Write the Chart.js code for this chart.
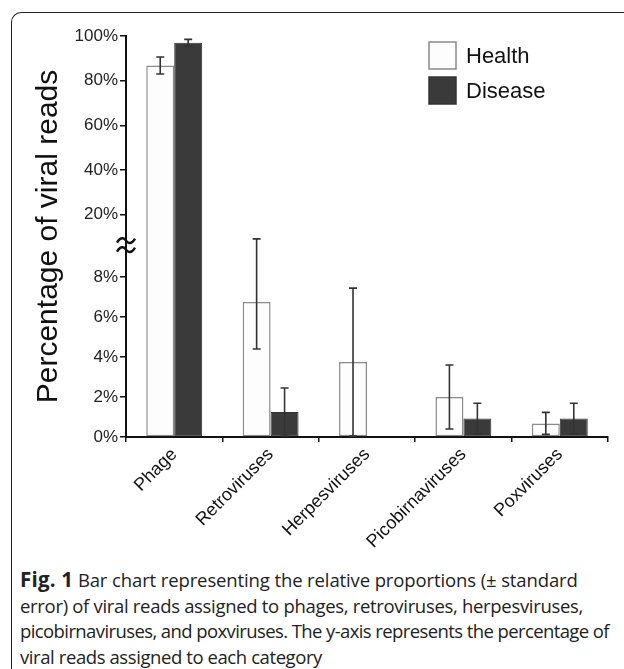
<!DOCTYPE html>
<html>
<head>
<meta charset="utf-8">
<script src="https://cdn.jsdelivr.net/npm/chart.js@4"></script>
<style>
  html, body { margin: 0; padding: 0; background: #fff; }
  body { width: 624px; height: 669px; position: relative; overflow: hidden; }
  .frame {
    position: absolute; left: 11px; top: 12px; width: 700px; height: 700px;
    border-top: 1.5px solid #222; border-left: 1.5px solid #222;
    border-top-left-radius: 10px;
  }
  #wrap { position: absolute; left: 0; top: 0; width: 624px; height: 550px; }
  .caption {
    position: absolute; left: 20px; top: 567px;
    font-family: 'Open Sans', sans-serif; font-size: 18.5px; line-height: 25.5px;
    color: #222; white-space: nowrap;
  }
  .caption .line { display: block; }
  .caption .line span { display: inline-block; }
  .caption b { font-weight: 700; font-size: 20.5px; letter-spacing: 0.2px; }
</style>
</head>
<body>
<div class="frame"></div>
<div id="wrap"><canvas id="chart" width="624" height="550"></canvas></div>
<div class="caption">
  <div class="line" data-w="557"><span><b>Fig. 1</b> Bar chart representing the relative proportions (± standard</span></div>
  <div class="line" data-w="563"><span>error) of viral reads assigned to phages, retroviruses, herpesviruses,</span></div>
  <div class="line" data-w="589"><span>picobirnaviruses, and poxviruses. The y-axis represents the percentage of</span></div>
  <div class="line" data-w="302"><span>viral reads assigned to each category</span></div>
</div>
<script>
  'use strict';

  /* ── data (percent of viral reads) ── */
  var categories = ['Phage', 'Retroviruses', 'Herpesviruses', 'Picobirnaviruses', 'Poxviruses'];
  var healthValues = [86.8, 6.75, 3.75, 2.0, 0.68];
  var healthErrors = [3.8, 2.35, 3.7, 1.6, 0.55];
  var diseaseValues = [97.0, 1.25, 0, 0.92, 0.92];
  var diseaseErrors = [1.5, 1.2, 0, 0.77, 0.77];
  var lowTicks = [0, 2, 4, 6, 8];
  var highTicks = [20, 40, 60, 80, 100];

  /* ── broken axis: 0-8% full scale, 20-100% compressed ── */
  var LOW_MAX = 8;
  var HIGH_MIN = 20;
  var HIGH_START = 11.13;   // axis units where 20% sits
  var HIGH_SLOPE = 0.1117;  // axis units per percent above the break
  var BREAK_AT = 9.6;

  function toAxis(v) {
    return v <= LOW_MAX ? v : HIGH_START + (v - HIGH_MIN) * HIGH_SLOPE;
  }

  var tickValues = lowTicks.concat(highTicks);
  var FONT = "'Liberation Sans', Arial, sans-serif";

  // caption lines: nudge letter spacing so each line keeps the original wrap width
  document.querySelectorAll('.caption .line').forEach(function (line) {
    var span = line.querySelector('span');
    var target = parseFloat(line.getAttribute('data-w'));
    var natural = span.getBoundingClientRect().width;
    var chars = span.textContent.length;
    span.style.letterSpacing = ((target - natural) / chars).toFixed(3) + 'px';
  });

  // error bars, axis break mark and legend
  var extrasPlugin = {
    id: 'extras',
    afterDatasetsDraw: function (chart) {
      var ctx = chart.ctx;
      var y = chart.scales.y;
      var errs = [healthErrors, diseaseErrors];
      var vals = [healthValues, diseaseValues];

      ctx.save();
      ctx.strokeStyle = '#333';
      ctx.lineWidth = 1.6;
      chart.data.datasets.forEach(function (ds, i) {
        var meta = chart.getDatasetMeta(i);
        meta.data.forEach(function (bar, j) {
          var e = errs[i][j];
          if (!e) return;
          var v = vals[i][j];
          var top = y.getPixelForValue(toAxis(v + e));
          var bot = y.getPixelForValue(toAxis(Math.max(0, v - e)));
          ctx.beginPath();
          ctx.moveTo(bar.x, top); ctx.lineTo(bar.x, bot);
          ctx.moveTo(bar.x - 4, top); ctx.lineTo(bar.x + 4, top);
          ctx.moveTo(bar.x - 4, bot); ctx.lineTo(bar.x + 4, bot);
          ctx.stroke();
        });
      });
      ctx.restore();
    },
    afterDraw: function (chart) {
      var ctx = chart.ctx;
      var area = chart.chartArea;
      var by = chart.scales.y.getPixelForValue(BREAK_AT);
      var bx = area.left;

      // break mark ≈
      ctx.save();
      ctx.strokeStyle = '#111';
      ctx.lineWidth = 2.4;
      [-4.5, 4.5].forEach(function (dy) {
        var cy = by + dy;
        ctx.beginPath();
        ctx.moveTo(bx - 9, cy + 2);
        ctx.bezierCurveTo(bx - 5, cy - 5, bx - 1, cy - 2, bx, cy);
        ctx.bezierCurveTo(bx + 1, cy + 2, bx + 5, cy + 5, bx + 9, cy - 2);
        ctx.stroke();
      });
      ctx.restore();

      // legend
      ctx.save();
      var lx = 429, ly = 42, size = 27, step = 35;
      chart.data.datasets.forEach(function (ds, i) {
        var top = ly + i * step;
        ctx.fillStyle = ds.backgroundColor;
        ctx.fillRect(lx, top, size, size);
        ctx.strokeStyle = ds.borderColor;
        ctx.lineWidth = 1.5;
        ctx.strokeRect(lx, top, size, size);
        ctx.fillStyle = '#111';
        ctx.font = '22px ' + FONT;
        ctx.textBaseline = 'middle';
        ctx.textAlign = 'left';
        ctx.fillText(ds.label, lx + size + 10, top + size / 2 + 1);
      });
      ctx.restore();
    }
  };

  var ctx = document.getElementById('chart').getContext('2d');
  new Chart(ctx, {
    type: 'bar',
    data: {
      labels: categories,
      datasets: [
        {
          label: 'Health',
          data: healthValues.map(toAxis),
          backgroundColor: '#fdfdfd',
          borderColor: '#8a8a8a',
          borderWidth: 1.5,
          borderSkipped: false,
          barPercentage: 1,
          categoryPercentage: 0.58
        },
        {
          label: 'Disease',
          data: diseaseValues.map(toAxis),
          backgroundColor: '#3a3a3a',
          borderColor: '#333333',
          borderWidth: 1,
          borderSkipped: false,
          barPercentage: 1,
          categoryPercentage: 0.58
        }
      ]
    },
    options: {
      responsive: false,
      animation: false,
      layout: { padding: { top: 36, right: 16, left: 0, bottom: 0 } },
      plugins: { legend: { display: false }, tooltip: { enabled: false } },
      scales: {
        x: {
          afterFit: function (scale) { scale.height = 550 - 437; },
          grid: { drawOnChartArea: false, tickLength: 5, color: '#111', lineWidth: 1.5, offset: true },
          border: { color: '#111', width: 2 },
          ticks: {
            color: '#111', maxRotation: 45, minRotation: 45, padding: 2,
            font: { family: FONT, size: 18 }
          }
        },
        y: {
          min: 0,
          max: toAxis(100),
          afterFit: function (scale) { scale.width = 126; },
          afterBuildTicks: function (scale) {
            scale.ticks = tickValues.map(function (v) { return { value: toAxis(v) }; });
          },
          grid: { drawOnChartArea: false, tickLength: 6, color: '#111', lineWidth: 1.5 },
          border: { color: '#111', width: 2 },
          ticks: {
            color: '#222', padding: 2,
            font: { family: FONT, size: 17 },
            callback: function (value, index) { return tickValues[index] + '%'; }
          },
          title: {
            display: true,
            text: 'Percentage of viral reads',
            color: '#111',
            font: { family: FONT, size: 30 },
            padding: { top: 31, bottom: 0 }
          }
        }
      }
    },
    plugins: [extrasPlugin]
  });
</script>
</body>
</html>
